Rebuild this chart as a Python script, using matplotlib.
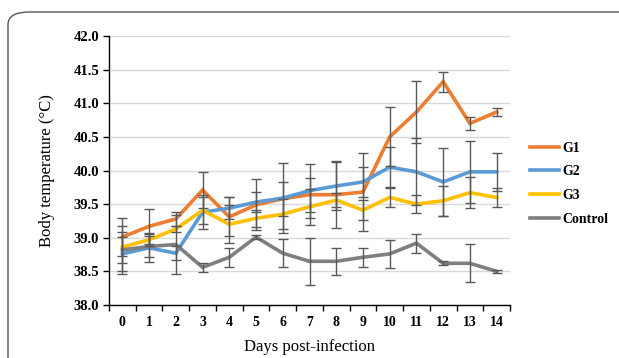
import matplotlib.pyplot as plt
from matplotlib.patches import FancyBboxPatch
import numpy as np

# dias pós-infecção
days = list(range(15))

# temperatura média por grupo
g1 = [39.01, 39.17, 39.28, 39.71, 39.31, 39.49, 39.58, 39.64, 39.64, 39.68,
      40.50, 40.87, 41.32, 40.70, 40.87]
g2 = [38.76, 38.85, 38.77, 39.38, 39.44, 39.53, 39.59, 39.70, 39.77, 39.83,
      40.05, 39.98, 39.83, 39.98, 39.98]
g3 = [38.86, 38.97, 39.13, 39.41, 39.20, 39.29, 39.35, 39.46, 39.56, 39.41,
      39.60, 39.50, 39.55, 39.67, 39.60]
control = [38.82, 38.87, 38.90, 38.56, 38.71, 39.01, 38.77, 38.65, 38.65, 38.71,
           38.76, 38.92, 38.62, 38.62, 38.50]

# desvios (barras de erro)
g1_err = [0.28, 0.26, 0.10, 0.27, 0.29, 0.38, 0.25, 0.25, 0.50, 0.58,
          0.44, 0.46, 0.15, 0.10, 0.06]
g2_err = [0.25, 0.21, 0.10, 0.25, 0.16, 0.15, 0.52, 0.40, 0.35, 0.22,
          0.30, 0.50, 0.50, 0.46, 0.28]
g3_err = [0.23, 0.10, 0.05, 0.20, 0.28, 0.13, 0.22, 0.27, 0.10, 0.15,
          0.14, 0.13, 0.22, 0.23, 0.14]
control_err = [0.36, 0.15, 0.44, 0.07, 0.14, 0.03, 0.21, 0.35, 0.20, 0.14,
               0.21, 0.14, 0.03, 0.28, 0.02]

labels = ['G1', 'G2', 'G3', 'Control']
colors = ['#ED7D31', '#5B9BD5', '#FFC000', '#7F7F7F']

plt.rcParams['font.family'] = ['Liberation Serif', 'DejaVu Serif']

fig = plt.figure(figsize=(6.19, 3.58), dpi=100)

# moldura arredondada
frame = FancyBboxPatch((8 / 619, -0.2), 1.2, (1 + 0.2) - 12 / 358,
                       boxstyle='round,pad=0,rounding_size=0.035',
                       transform=fig.transFigure, fill=False,
                       edgecolor='#555555', linewidth=1.0, clip_on=False)
fig.patches.append(frame)

ax = fig.add_axes([109 / 619, 1 - 305 / 358, (510 - 109) / 619, (305 - 36) / 358])

series = [(g1, g1_err), (g2, g2_err), (g3, g3_err), (control, control_err)]
for (vals, errs), lab, col in zip(series, labels, colors):
    ax.plot(days, vals, color=col, linewidth=2.6, label=lab, zorder=3,
            solid_joinstyle='miter')
for (vals, errs) in series:
    ax.errorbar(days, vals, yerr=errs, fmt='none', ecolor='#595959',
                elinewidth=1.0, capsize=3.5, capthick=1.0, zorder=4)

ax.set_xlim(-0.5, 14.5)
ax.set_ylim(38.0, 42.0)
ax.set_yticks(np.arange(38.0, 42.01, 0.5))
ax.set_yticklabels([f'{v:.1f}' for v in np.arange(38.0, 42.01, 0.5)],
                   fontweight='bold', fontsize=10.5)
ax.set_xticks(days)
ax.set_xticklabels([str(d) for d in days], fontweight='bold', fontsize=10)
ax.set_xticks(np.arange(-0.5, 14.51, 1), minor=True)
ax.tick_params(axis='x', which='major', length=0, pad=8)
ax.tick_params(axis='x', which='minor', length=4, direction='out', width=1)
ax.tick_params(axis='y', length=4, direction='out', width=1, pad=3)

ax.grid(axis='y', color='#D9D9D9', linewidth=1)
ax.set_axisbelow(True)
for s in ['top', 'right']:
    ax.spines[s].set_visible(False)
ax.spines['left'].set_linewidth(1)
ax.spines['bottom'].set_linewidth(1)

ax.set_ylabel('Body temperature (°C)', fontsize=12, labelpad=13)
ax.set_xlabel('Days post-infection', fontsize=12, labelpad=7)

fig.legend(loc='upper left', bbox_to_anchor=(517 / 619, 1 - 129 / 358),
           frameon=False, prop={'weight': 'bold', 'size': 10},
           handlelength=2.1, handletextpad=0.3, labelspacing=0.78)

plt.savefig('out.png', dpi=100)
